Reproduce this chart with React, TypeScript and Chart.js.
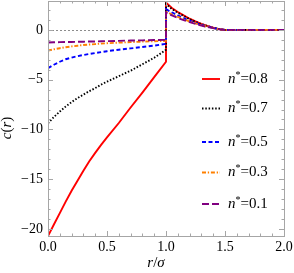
import React, { useEffect, useRef } from "react";
import { Chart, registerables } from "chart.js";
Chart.register(...registerables);

const rInner = [0, 0.05, 0.1, 0.15, 0.2, 0.25, 0.3, 0.35, 0.4, 0.45, 0.5, 0.6, 0.7, 0.8, 0.9, 1.0];
const rOuter = [1.0, 1.05, 1.1, 1.15, 1.2, 1.25, 1.3, 1.35, 1.4, 1.45, 1.5, 2.0];

const densities = ["0.8", "0.7", "0.5", "0.3", "0.1"];

const inner08 = [-20.7, -19.55, -18.4, -17.25, -16.15, -15.15, -14.15, -13.2, -12.35, -11.55, -10.8, -9.35, -7.8, -6.3, -4.75, -3.2];
const inner07 = [-9.38, -8.75, -8.2, -7.7, -7.25, -6.85, -6.5, -6.15, -5.85, -5.5, -5.2, -4.65, -4.1, -3.45, -2.8, -2.0];
const inner05 = [-3.85, -3.5, -3.2, -2.95, -2.78, -2.64, -2.52, -2.42, -2.32, -2.23, -2.14, -1.99, -1.86, -1.72, -1.58, -1.4];
const inner03 = [-2.08, -1.95, -1.84, -1.74, -1.66, -1.59, -1.52, -1.47, -1.43, -1.38, -1.34, -1.28, -1.23, -1.18, -1.14, -1.1];
const inner01 = [-1.27, -1.25, -1.23, -1.22, -1.21, -1.2, -1.19, -1.17, -1.16, -1.14, -1.13, -1.1, -1.07, -1.05, -1.02, -1.0];

const outer08 = [2.74, 2.2, 1.8, 1.45, 1.12, 0.85, 0.6, 0.4, 0.22, 0.08, 0, 0];
const outer07 = [2.6, 2.1, 1.72, 1.4, 1.08, 0.82, 0.58, 0.39, 0.21, 0.08, 0, 0];
const outer05 = [2.08, 1.75, 1.45, 1.18, 0.93, 0.71, 0.51, 0.34, 0.2, 0.07, 0, 0];
const outer03 = [1.84, 1.55, 1.3, 1.06, 0.85, 0.65, 0.47, 0.31, 0.18, 0.06, 0, 0];
const outer01 = [1.74, 1.45, 1.2, 0.98, 0.78, 0.6, 0.43, 0.29, 0.17, 0.06, 0, 0];

const xTicks = [0, 0.5, 1.0, 1.5, 2.0];
const yTicks = [-20, -15, -10, -5, 0];

const SERIF = "'Liberation Serif', 'DejaVu Serif', serif";

const styles = [
  { color: "#ff0000", dash: [] as number[], width: 1.9 },
  { color: "#000000", dash: [1.5, 1.8], width: 1.9 },
  { color: "#0000ff", dash: [4, 2.5], width: 1.9 },
  { color: "#ff8000", dash: [4, 1.8, 1.3, 1.8], width: 1.9 },
  { color: "#800080", dash: [7, 3], width: 1.9 },
];

const innerSets = [inner08, inner07, inner05, inner03, inner01];
const outerSets = [outer08, outer07, outer05, outer03, outer01];
const legendY = [79, 108.5, 142, 172.5, 204];

const fmtMinus = (v: number) => (v < 0 ? "\u2212" + Math.abs(v) : String(v));

const framePlugin = {
  id: "frame",
  beforeDatasetsDraw(chart: any) {
    const { ctx, chartArea, scales } = chart;
    const y0 = scales.y.getPixelForValue(0);
    ctx.save();
    ctx.strokeStyle = "#8c8c8c";
    ctx.lineWidth = 1;
    ctx.setLineDash([2, 2]);
    ctx.beginPath();
    ctx.moveTo(chartArea.left, Math.round(y0) + 0.5);
    ctx.lineTo(chartArea.right, Math.round(y0) + 0.5);
    ctx.stroke();
    ctx.restore();
  },
  afterDraw(chart: any) {
    const { ctx, chartArea, scales } = chart;
    const { left, right, top, bottom } = chartArea;
    ctx.save();
    ctx.strokeStyle = "#a6a6a6";
    ctx.lineWidth = 1;
    ctx.setLineDash([]);
    ctx.strokeRect(Math.round(left) + 0.5, Math.round(top) + 0.5, Math.round(right - left), Math.round(bottom - top));
    ctx.beginPath();
    for (let i = 0; i <= 20; i++) {
      const v = i / 10;
      const px = Math.round(scales.x.getPixelForValue(v)) + 0.5;
      const len = i % 5 === 0 ? 5 : 2.5;
      ctx.moveTo(px, bottom);
      ctx.lineTo(px, bottom - len);
      ctx.moveTo(px, top);
      ctx.lineTo(px, top + len);
    }
    for (let v = -20; v <= 2; v++) {
      const py = Math.round(scales.y.getPixelForValue(v)) + 0.5;
      const len = v % 5 === 0 ? 5 : 2.5;
      ctx.moveTo(left, py);
      ctx.lineTo(left + len, py);
      ctx.moveTo(right, py);
      ctx.lineTo(right - len, py);
    }
    ctx.stroke();

    ctx.fillStyle = "#000";
    ctx.textBaseline = "middle";
    ctx.save();
    ctx.translate(7, 128);
    ctx.rotate(-Math.PI / 2);
    const partsY: [string, boolean][] = [["c", true], ["(", false], ["r", true], [")", false]];
    const fs = 15;
    let tw = 0;
    for (const [t, it] of partsY) {
      ctx.font = `${it ? "italic " : ""}${fs}px ${SERIF}`;
      tw += ctx.measureText(t).width;
    }
    let cx = -tw / 2;
    for (const [t, it] of partsY) {
      ctx.font = `${it ? "italic " : ""}${fs}px ${SERIF}`;
      ctx.textAlign = "left";
      ctx.fillText(t, cx, 0);
      cx += ctx.measureText(t).width;
    }
    ctx.restore();

    const partsX: [string, boolean][] = [["r", true], ["/", false], ["\u03c3", true]];
    tw = 0;
    for (const [t, it] of partsX) {
      ctx.font = `${it ? "italic " : ""}${fs}px ${SERIF}`;
      tw += ctx.measureText(t).width;
    }
    cx = 156 - tw / 2;
    for (const [t, it] of partsX) {
      ctx.font = `${it ? "italic " : ""}${fs}px ${SERIF}`;
      ctx.textAlign = "left";
      ctx.fillText(t, cx, 263);
      cx += ctx.measureText(t).width;
    }

    for (let i = 0; i < densities.length; i++) {
      const y = legendY[i];
      const st = styles[i];
      ctx.strokeStyle = st.color;
      ctx.lineWidth = st.width;
      ctx.setLineDash(st.dash);
      ctx.beginPath();
      ctx.moveTo(202, y);
      ctx.lineTo(220, y);
      ctx.stroke();
      ctx.setLineDash([]);
      let x = 228;
      ctx.textAlign = "left";
      ctx.font = `italic 15px ${SERIF}`;
      ctx.fillText("n", x, y);
      x += ctx.measureText("n").width;
      ctx.font = `10px ${SERIF}`;
      ctx.fillText("*", x, y - 4);
      x += ctx.measureText("*").width;
      ctx.font = `15px ${SERIF}`;
      ctx.fillText("=" + densities[i], x, y);
    }
    ctx.restore();
  },
};

export default function App() {
  const ref = useRef<HTMLCanvasElement>(null);
  useEffect(() => {
    if (!ref.current) return;
    const datasets = densities.map((d, i) => {
      const pts = [
        ...rInner.map((r, k) => ({ x: r, y: innerSets[i][k] })),
        ...rOuter.map((r, k) => ({ x: r, y: outerSets[i][k] })),
      ];
      return {
        label: "n*=" + d,
        data: pts,
        borderColor: styles[i].color,
        borderDash: styles[i].dash,
        borderWidth: styles[i].width,
        pointRadius: 0,
        fill: false,
        tension: 0,
        order: densities.length - 1 - i,
      };
    });
    const chart = new Chart(ref.current, {
      type: "line",
      data: { datasets },
      options: {
        animation: false,
        responsive: false,
        maintainAspectRatio: false,
        layout: { padding: { top: 1, right: 10, left: 0, bottom: 0 } },
        plugins: { legend: { display: false }, tooltip: { enabled: false } },
        scales: {
          x: {
            type: "linear",
            min: 0,
            max: 2,
            grid: { display: false, drawTicks: false },
            border: { display: false },
            ticks: {
              color: "#000",
              padding: 3,
              maxRotation: 0,
              autoSkip: false,
              font: { family: SERIF, size: 14 },
              callback: (v: any) => Number(v).toFixed(1),
            },
            afterBuildTicks: (s: any) => {
              s.ticks = xTicks.map((v) => ({ value: v }));
            },
            afterFit: (s: any) => {
              s.height = 37;
              s.paddingLeft = 0;
              s.paddingRight = 0;
            },
          },
          y: {
            type: "linear",
            min: -20.7,
            max: 2.9,
            grid: { display: false, drawTicks: false },
            border: { display: false },
            ticks: {
              color: "#000",
              padding: 5,
              autoSkip: false,
              font: { family: SERIF, size: 14 },
              callback: (v: any) => fmtMinus(Number(v)),
            },
            afterBuildTicks: (s: any) => {
              s.ticks = yTicks.map((v) => ({ value: v }));
            },
            afterFit: (s: any) => {
              s.width = 48;
              s.paddingTop = 0;
              s.paddingBottom = 0;
            },
          },
        },
      },
      plugins: [framePlugin],
    } as any);
    return () => chart.destroy();
  }, []);
  return (
    <div style={{ position: "fixed", left: 0, top: 0, width: 294, height: 273, background: "#fff" }}>
      <canvas ref={ref} width={294} height={273} />
    </div>
  );
}
